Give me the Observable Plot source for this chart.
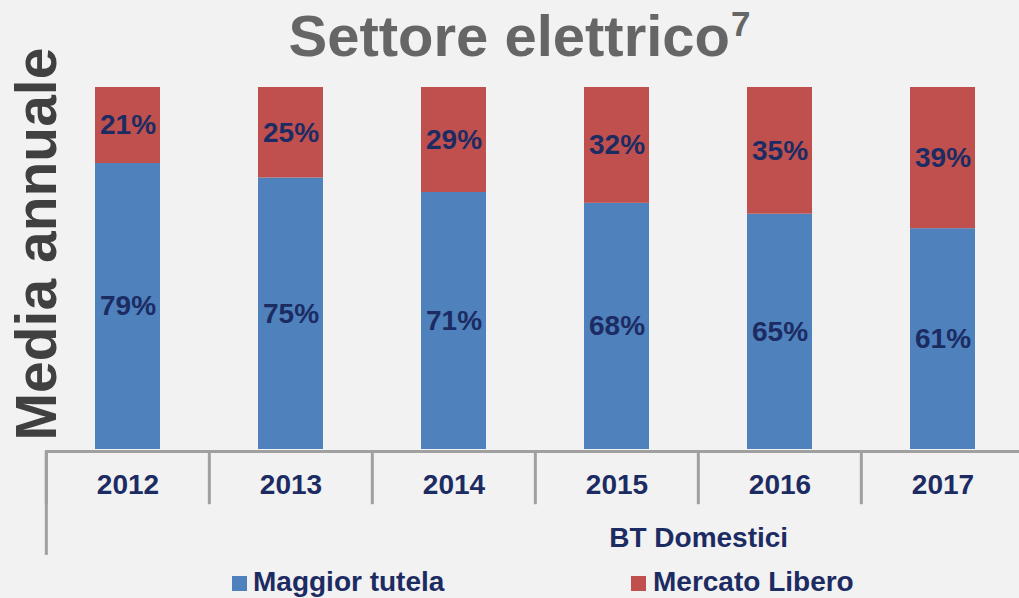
<!DOCTYPE html>
<html>
<head>
<meta charset="utf-8">
<script src="https://cdn.jsdelivr.net/npm/d3@7"></script>
<script src="https://cdn.jsdelivr.net/npm/@observablehq/plot@0.6"></script>
<style>
  html, body { margin: 0; padding: 0; background: #F2F2F2; }
  body { width: 1019px; height: 598px; overflow: hidden; position: relative;
         font-family: "Liberation Sans", Arial, sans-serif; }
  #title { height: 80px; line-height: 71px; font-size: 58px; font-weight: bold; color: #666666;
           text-align: center; padding-left: 20px; box-sizing: border-box; white-space: nowrap; }
  #title .sup { font-size: 35px; position: relative; top: -20px; margin-left: 1px; }
  #ylabel { position: absolute; left: 36px; top: 244px; transform: translate(-50%, -50%) rotate(-90deg);
            font-size: 57px; font-weight: bold; color: #404040; line-height: 57px; white-space: nowrap; }
  #chart svg { display: block; }
  #legend { position: relative; height: 28px; line-height: 24px; font-size: 28px; font-weight: bold; color: #1C2C63; }
  #legend .item { position: absolute; top: 0; white-space: nowrap; }
  #legend .sw { display: inline-block; width: 15px; height: 15px; vertical-align: baseline; }
</style>
</head>
<body>
<div id="title">Settore elettrico<span class="sup">7</span></div>
<div id="chart"></div>
<div id="legend"></div>
<div id="ylabel">Media annuale</div>
<script>
const years = ["2012", "2013", "2014", "2015", "2016", "2017"];
const maggiorTutela = [79, 75, 71, 68, 65, 61];
const mercatoLibero = [21, 25, 29, 32, 35, 39];
const seriesNames = ["Maggior tutela", "Mercato Libero"];
const seriesColors = ["#4F81BD", "#C0504D"];
const groupLabel = "BT Domestici";

const data = [
  ...years.map((y, i) => ({year: y, series: seriesNames[0], value: maggiorTutela[i]})),
  ...years.map((y, i) => ({year: y, series: seriesNames[1], value: mercatoLibero[i]}))
];

const navy = "#1C2C63";
const axisGray = "#A0A0A0";
const xRange = [45, 1025];
const step = (xRange[1] - xRange[0]) / years.length;

const chart = Plot.plot({
  width: 1019,
  height: 490,
  marginTop: 7,
  marginBottom: 121,
  marginLeft: 45,
  marginRight: 0,
  style: {background: "transparent", fontFamily: "'Liberation Sans', Arial, sans-serif", overflow: "visible"},
  x: {domain: years, range: xRange, paddingInner: 0.6, paddingOuter: 0.3, axis: null},
  y: {domain: [0, 100], axis: null},
  color: {domain: seriesNames, range: seriesColors},
  marks: [
    Plot.barY(data, {x: "year", y: "value", fill: "series"}),
    Plot.text(data, Plot.stackY({
      x: "year", y: "value", z: "series",
      text: d => d.value + "%",
      fill: navy, fontSize: 28, fontWeight: "bold"
    })),
    Plot.ruleY([0], {dy: 2, stroke: axisGray, strokeWidth: 3}),
    Plot.ruleX(years, {x: d => d, y1: 0, y2: -14.7, dx: -step / 2, dy: 2, stroke: axisGray, strokeWidth: 3}),
    Plot.ruleX([years[0]], {x: d => d, y1: 0, y2: -28.7, dx: -step / 2, dy: 2, stroke: axisGray, strokeWidth: 3}),
    Plot.text(years, {x: d => d, text: d => d, frameAnchor: "bottom", dy: 44,
      fill: navy, fontSize: 28, fontWeight: "bold"}),
    Plot.text([groupLabel], {x: () => years[3], text: d => d, dx: step / 2, frameAnchor: "bottom", dy: 97,
      fill: navy, fontSize: 28, fontWeight: "bold"})
  ]
});
document.getElementById("chart").appendChild(chart);

const legend = document.getElementById("legend");
const legendLeft = [232, 631];
const legendGap = [6, 7];
seriesNames.forEach((name, i) => {
  const item = document.createElement("div");
  item.className = "item";
  item.style.left = legendLeft[i] + "px";
  const sw = document.createElement("span");
  sw.className = "sw";
  sw.style.background = seriesColors[i];
  sw.style.marginRight = legendGap[i] + "px";
  item.appendChild(sw);
  item.appendChild(document.createTextNode(name));
  legend.appendChild(item);
});
</script>
</body>
</html>
